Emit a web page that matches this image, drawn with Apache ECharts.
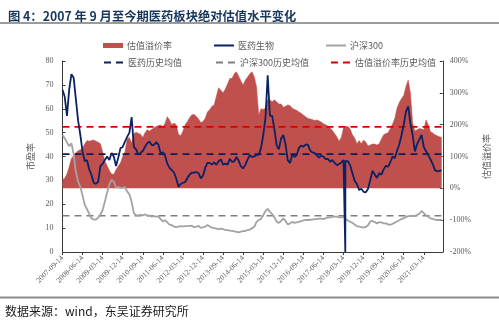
<!DOCTYPE html>
<html><head><meta charset="utf-8">
<script src="https://cdn.jsdelivr.net/npm/echarts@6/dist/echarts.min.js"></script>
<style>html,body{margin:0;padding:0;background:#fff;}#c{width:499px;height:321px;}</style>
</head><body><div id="c"></div>
<script>
// monthly samples starting 2007-09 (index = months since 2007-09-14)
const startYear = 2007, startMonthIdx = 8; // September (0-based)
const tickDay = '14';
const xMax = 170.5;

const pharmaPE = [68,65,57,68,74.5,73,64,55,49,42,
38,38.5,34.5,32.3,29,28.5,29.5,36,37,38.5,
40,38.5,41.5,40,36,39.5,43.5,44,46.2,48.2,
50,56.5,44,43,40.8,41.5,42.3,44.1,45.5,46.3,
44.8,44.8,46,45,41.3,41.8,40.3,37,35.2,34.3,
33.3,30.8,27.3,28.5,29,29.3,31,32.5,33.2,33.3,
33.5,33,30.8,32,35.3,37.3,37.3,36.6,37.5,36.5,
38,38.8,36.6,37,36.6,39,37.8,38,39.8,38.2,
35.9,35,36.6,38.8,40.5,39.8,40,40.6,40.8,43.5,
49,56,74,57,57,51.5,44.8,43,47.5,49,
45,38.5,37.3,40.8,39.8,40.6,43.6,44.6,44.1,45,
45,42.6,41.7,41.5,40.6,39.5,40.4,39.9,38.9,39,
37.8,38.5,37.3,36.4,36.8,37.5,38.5,38,38,36.2,
33,29.8,28.5,26,26.5,25.2,25,26.5,30.2,34,
32.5,31,33,32.4,34.6,36.1,35.7,37.7,40,39.3,
42.4,45,48.9,53.4,58.8,61,53.8,49,42.1,45.2,
47.2,49,43.9,42.2,40.6,38.8,36.8,34.3,33.8,34,34.2];
const pharmaGlitch = [[126.75,38.3],[126.8,0],[126.85,38.2]];

const hs300PE = [49,47.6,46,44.3,45.5,41,33.5,29.5,27.3,23.5,
19.7,17.9,16,14.1,13.6,13.6,14.4,15.7,17.6,21.2,
24.8,28.2,30.2,29.5,27,27.2,27,26.9,27.2,25.4,
24.1,21,16.3,15.5,15.2,15.7,15.3,15.8,15.2,15.3,
14.8,15,14.8,14.8,13.8,12.8,13.3,12.4,11.5,11.3,
10.6,10.4,10.6,10.8,10.7,10.8,10.8,10.9,11,10.4,
10.6,10.9,10.1,10.3,10.7,11.3,10.7,10.2,10,9.8,
9.6,9.8,9.6,9.2,9.2,9,8.8,8.6,8.4,8.2,
8.5,8.7,8.8,9.2,9.4,10,10.5,12.6,13.4,13.8,
15.4,17.1,18.1,16.9,15.9,14.6,12.7,12.2,13,14.1,
13,11.5,12,12.6,12.2,12.4,12.6,12.9,13.2,13.4,
13.4,13.5,13.6,13.8,13.8,14,14,13.8,14.2,14.4,
14.5,14.7,14.8,14.8,14.5,14.5,14.8,13.8,13.1,12.7,
12.2,11.5,10.8,10.6,10.4,10.2,10.5,11.2,12.8,13,
12.5,12,12.5,12.4,12,12,11.6,11.4,11.8,12.3,
12.8,13.3,13.8,14.2,14.6,15,15.1,15,15.1,15.6,
16,17.2,16.3,15.3,14.8,14.1,13.9,13.6,13.4,13.4,13.6];

const premium = [28,32,45,68,94,103,112,118,121,126,
140,150,148,150,152,148,145,140,115,85,
72,56,45,44,58,70,80,100,115,155,
160,142,172,176,173,170,160,175,184,180,
185,190,194,197,199,192,205,225,215,200,
205,200,170,165,180,200,210,222,231,232,
226,218,207,210,220,240,247,258,262,290,
316,308,300,312,328,345,345,360,366,352,
337,325,340,350,360,366,350,320,230,250,
248,252,280,278,272,278,272,265,265,255,
258,262,260,252,248,245,240,236,230,225,
220,218,216,213,215,212,208,203,200,195,
190,182,172,162,148,160,190,194,194,186,
168,158,140,150,140,152,145,133,136,139,
139,136,140,155,168,172,175,188,202,220,
252,270,282,292,320,340,300,205,180,184,
188,186,184,215,200,178,174,168,165,162,160];

const pharmaMean = 41, hs300Mean = 15.2, premiumMean = 193;

const leftTicks = {min:0, max:80, interval:10};
const rightTicks = {min:-200, max:400, interval:100};

function toPairs(arr){ return arr.map((v,i)=>[i,v]); }
const pharmaData = toPairs(pharmaPE).concat(pharmaGlitch).sort((a,b)=>a[0]-b[0]);

function fmtDate(m){
  const t = startMonthIdx + Math.round(m);
  const y = startYear + Math.floor(t/12);
  const mo = (t%12)+1;
  return y + '-' + (mo<10?'0':'') + mo + '-' + tickDay;
}

const RED = '#C0504D', NAVY = '#0B2265', GRAY = '#A3A3A3';
const serif = 'Liberation Serif';
const cjk = 'Noto Sans CJK SC';

function lg(name, left, top, extra){
  return Object.assign({
    data:[name], left:left, top:top, padding:0, itemWidth:20, itemHeight:10,
    itemGap:0, textStyle:{fontSize:9, color:'#595959', fontFamily:cjk, padding:[0,0,0,-1]},
    itemStyle:{opacity:0},
    selectedMode:false
  }, extra||{});
}

const chart = echarts.init(document.getElementById('c'), null, {renderer:'canvas'});
chart.setOption({
  animation:false,
  backgroundColor:'#fff',
  title:{text:'图 4：2007 年 9 月至今期医药板块绝对估值水平变化', left:3, top:5,
    textStyle:{fontSize:12.3, fontWeight:'bold', color:'#17365D', fontFamily:cjk}},
  graphic:[
    {type:'line', shape:{x1:0,y1:23,x2:499,y2:23}, style:{stroke:'#9B9B9B', lineWidth:2}},
    {type:'line', shape:{x1:0,y1:297.5,x2:499,y2:297.5}, style:{stroke:'#8C8C8C', lineWidth:2}},
    {type:'text', left:5, top:305, style:{text:'数据来源：wind，东吴证券研究所', fontSize:12, fill:'#1a1a1a', fontFamily:cjk}}
  ],
  legend:[
    lg('估值溢价率',103,41,{itemHeight:5, icon:'rect', itemStyle:{opacity:1}}),
    lg('医药生物',213,41),
    lg('沪深300',325,41),
    lg('医药历史均值',103,58),
    lg('沪深300历史均值',215,58),
    lg('估值溢价率历史均值',330,58)
  ],
  grid:{left:62.5, right:56, top:61, bottom:69, containLabel:false},
  xAxis:{type:'value', min:0, max:xMax, interval:9,
    splitLine:{show:false},
    axisLine:{lineStyle:{color:'#3a3a3a', width:1}},
    axisTick:{show:true, inside:false, length:3, lineStyle:{color:'#3a3a3a'}},
    axisLabel:{rotate:45, margin:5, fontSize:7.5, color:'#595959', fontFamily:serif,
      showMaxLabel:false, formatter:(v)=>fmtDate(v)}},
  yAxis:[
    {type:'value', min:leftTicks.min, max:leftTicks.max, interval:leftTicks.interval,
      name:'市盈率', nameLocation:'middle', nameRotate:90, nameGap:15,
      nameTextStyle:{fontSize:9, color:'#595959', fontFamily:cjk},
      splitLine:{show:false},
      axisLine:{show:true, lineStyle:{color:'#3a3a3a', width:1}},
      axisTick:{show:true, inside:true, length:3, lineStyle:{color:'#3a3a3a'}},
      axisLabel:{margin:9, fontSize:8, color:'#595959', fontFamily:serif}},
    {type:'value', min:rightTicks.min, max:rightTicks.max, interval:rightTicks.interval, position:'right',
      name:'估值溢价率', nameLocation:'middle', nameRotate:90, nameGap:30,
      nameTextStyle:{fontSize:9, color:'#595959', fontFamily:cjk},
      splitLine:{show:false},
      axisLine:{show:true, lineStyle:{color:'#3a3a3a', width:1}},
      axisTick:{show:true, inside:true, length:3, lineStyle:{color:'#3a3a3a'}},
      axisLabel:{margin:7, fontSize:8, color:'#595959', fontFamily:serif, formatter:'{value}%'}}
  ],
  series:[
    {name:'估值溢价率', type:'line', yAxisIndex:1, data:toPairs(premium), symbol:'none',
      lineStyle:{width:0.5, color:RED}, itemStyle:{color:RED}, areaStyle:{color:RED, opacity:1}, z:1},
    {name:'医药历史均值', type:'line', yAxisIndex:0, data:[[0,pharmaMean],[xMax,pharmaMean]], symbol:'none',
      lineStyle:{width:1.8, color:'#0B1F5C', type:[7,5]}, itemStyle:{color:'#0B1F5C'}, z:2},
    {name:'沪深300历史均值', type:'line', yAxisIndex:0, data:[[0,hs300Mean],[xMax,hs300Mean]], symbol:'none',
      lineStyle:{width:1.5, color:'#7F7F7F', type:[7,5]}, itemStyle:{color:'#7F7F7F'}, z:2},
    {name:'估值溢价率历史均值', type:'line', yAxisIndex:1, data:[[0,premiumMean],[xMax,premiumMean]], symbol:'none',
      lineStyle:{width:1.8, color:'#D90000', type:[7,5]}, itemStyle:{color:'#D90000'}, z:2},
    {name:'沪深300', type:'line', yAxisIndex:0, data:toPairs(hs300PE), symbol:'none',
      lineStyle:{width:1.8, color:GRAY}, itemStyle:{color:GRAY}, z:3},
    {name:'医药生物', type:'line', yAxisIndex:0, data:pharmaData, symbol:'none',
      lineStyle:{width:1.8, color:NAVY}, itemStyle:{color:NAVY}, z:4}
  ]
});
</script></body></html>
